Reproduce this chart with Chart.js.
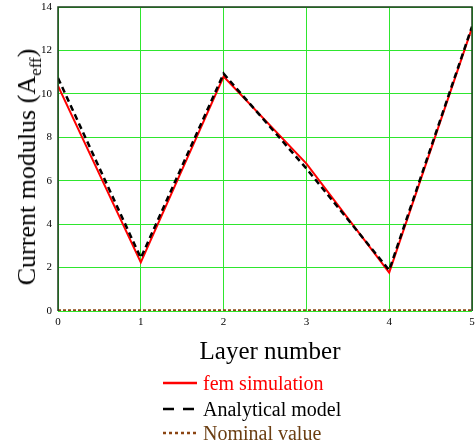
<!DOCTYPE html>
<html><head><meta charset="utf-8">
<script src="https://cdn.jsdelivr.net/npm/chart.js@4"></script>
<style>
html,body{margin:0;padding:0;background:#fff;}
#wrap{position:relative;width:476px;height:444px;overflow:hidden;font-family:"Liberation Serif","Times New Roman",serif;}
#c{position:absolute;left:0;top:0;}
#ytitle{position:absolute;left:27px;top:167px;transform:translate(-50%,-50%) rotate(-90deg);white-space:nowrap;font-size:26px;line-height:30px;color:#000;}
#ytitle sub{font-size:17px;vertical-align:-6px;line-height:0;}
#xtitle{position:absolute;left:270px;top:351px;transform:translate(-50%,-50%);white-space:nowrap;font-size:25px;color:#000;}
.leg{position:absolute;left:163px;height:22px;display:flex;align-items:center;font-size:20px;white-space:nowrap;}
.leg svg{margin-right:6px;}
</style></head>
<body><div id="wrap">
<canvas id="c" width="476" height="444"></canvas>
<div id="ytitle">Current modulus (A<sub>eff</sub>)</div>
<div id="xtitle">Layer number</div>
<div class="leg" style="top:372px;color:#ff0000"><svg width="34" height="6"><line x1="0" y1="3" x2="34" y2="3" stroke="#ff0000" stroke-width="2.5"/></svg>fem simulation</div>
<div class="leg" style="top:398px;color:#000"><svg width="34" height="6"><line x1="0" y1="3" x2="34" y2="3" stroke="#000" stroke-width="2.5" stroke-dasharray="11,9"/></svg>Analytical model</div>
<div class="leg" style="top:422px;color:#6b3e12"><svg width="34" height="6"><line x1="0" y1="3" x2="34" y2="3" stroke="#8b4513" stroke-width="2.5" stroke-dasharray="3,3"/></svg>Nominal value</div>
</div>
<script>
const layers = [0, 1, 2, 3, 4, 5];
const femSimulation = [10.37, 2.24, 10.8, 6.79, 1.77, 13.04];
const analyticalModel = [10.73, 2.44, 10.93, 6.56, 1.88, 13.1];
const nominalValue = [0.03, 0.03, 0.03, 0.03, 0.03, 0.03];
const yTicks = [0, 2, 4, 6, 8, 10, 12, 14];

const pts = arr => layers.map((x, i) => ({x: x, y: arr[i]}));

const frame = {
  id: 'frame',
  afterDatasetsDraw(chart) {
    const a = chart.chartArea, ctx = chart.ctx;
    ctx.save();
    ctx.strokeStyle = '#1c3d1c';
    ctx.lineWidth = 1.5;
    ctx.beginPath();
    ctx.moveTo(a.left, a.bottom); ctx.lineTo(a.left, a.top);
    ctx.lineTo(a.right, a.top); ctx.lineTo(a.right, a.bottom);
    ctx.stroke();
    ctx.restore();
  }
};

new Chart(document.getElementById('c'), {
  type: 'line',
  data: {
    datasets: [
      {label: 'Analytical model', data: pts(analyticalModel), borderColor: '#000', borderWidth: 2.5, borderDash: [6, 4], pointRadius: 0, fill: false, tension: 0},
      {label: 'fem simulation', data: pts(femSimulation), borderColor: '#ff0000', borderWidth: 2, pointRadius: 0, fill: false, tension: 0},
      {label: 'Nominal value', data: pts(nominalValue), borderColor: '#8b4513', borderWidth: 2, borderDash: [3, 2], pointRadius: 0, fill: false, tension: 0}
    ]
  },
  options: {
    responsive: false,
    animation: false,
    events: [],
    layout: {padding: {left: 0, right: 0, top: 0, bottom: 0}},
    plugins: {legend: {display: false}, tooltip: {enabled: false}},
    scales: {
      x: {
        type: 'linear', min: layers[0], max: layers[layers.length - 1],
        afterBuildTicks: s => { s.ticks = layers.map(v => ({value: v})); },
        afterFit: s => { s.height = 133; s.paddingRight = 4; },
        grid: {color: '#2ee62e', lineWidth: 1, drawTicks: false},
        border: {display: false},
        ticks: {color: '#000', padding: 5, font: {family: 'Liberation Serif', size: 11}, maxRotation: 0, autoSkip: false}
      },
      y: {
        min: 0, max: 14,
        afterBuildTicks: s => { s.ticks = yTicks.map(v => ({value: v})); },
        afterFit: s => { s.width = 58; s.paddingTop = 7; },
        grid: {color: '#2ee62e', lineWidth: 1, drawTicks: false},
        border: {display: false},
        ticks: {color: '#000', padding: 6, font: {family: 'Liberation Serif', size: 11}}
      }
    }
  },
  plugins: [frame]
});
</script>
</body></html>
